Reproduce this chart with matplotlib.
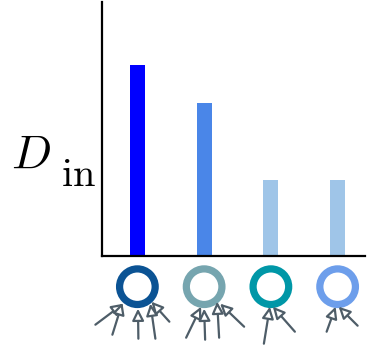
import matplotlib.pyplot as plt
from matplotlib.patches import Circle, FancyArrowPatch

# in-degree de chaque noeud
nodes = ["a", "b", "c", "d"]
d_in = [5, 4, 2, 2]
bar_colors = ["#0000ff", "#4a86e8", "#9fc5e8", "#9fc5e8"]
node_colors = ["#0b5394", "#76a5af", "#0097a7", "#6d9eeb"]

# flèches entrantes : (queue dx, dy, pointe dx, dy) en pixels autour du noeud
in_arrows = [
    [(-42, 38, -14, 17), (-25, 48, -15, 16), (1, 52, 0.6, 22),
     (18, 52, 13, 17), (32, 35, 14, 15)],
    [(-18, 51, -3, 20), (1, 53, 0, 22), (15, 51, 13, 15), (40, 40, 16, 17)],
    [(-7, 57, -1, 20), (24, 45, 2, 20)],
    [(-11, 45, -2, 20), (20, 39, 1, 20)],
]

W, H = 375, 347
plt.rcParams["mathtext.fontset"] = "cm"
fig = plt.figure(figsize=(W / 100, H / 100), dpi=100)

ax = fig.add_axes([102 / W, 1 - 256 / H, 263 / W, 254 / H])
x = list(range(len(nodes)))
ax.bar(x, d_in, width=0.225, color=bar_colors)
ax.set_xlim(-0.53, 3.41)
ax.set_ylim(0, 6.65)
for s in ["top", "right"]:
    ax.spines[s].set_visible(False)
for s in ["left", "bottom"]:
    ax.spines[s].set_linewidth(1.6)
ax.set_xticks([])
ax.set_yticks([])

# D et l'indice "in" posés séparément pour coller au rendu d'origine
fig.text(11 / W, 1 - 168 / H, r"$D$", fontsize=34, ha="left", va="baseline")
fig.text(61 / W, 1 - 186 / H, r"$\mathrm{in}$", fontsize=29, ha="left", va="baseline")

# calque en pixels pour les noeuds
ov = fig.add_axes([0, 0, 1, 1])
ov.set_xlim(0, W)
ov.set_ylim(H, 0)
ov.axis("off")

fig.canvas.draw()
cy = 286.7
for i, xi in enumerate(x):
    px, _ = ax.transData.transform((xi, 0))
    cx = px * W / fig.bbox.width
    ov.add_patch(Circle((cx, cy), 17.8, fill=False, ec=node_colors[i], lw=5.2))
    for tx, ty, hx, hy in in_arrows[i]:
        ov.add_patch(FancyArrowPatch(
            (cx + tx, cy + ty), (cx + hx, cy + hy),
            arrowstyle="-|>,head_length=0.7,head_width=0.35",
            mutation_scale=10, ec="#4e5d68", fc="white", lw=1.6,
            shrinkA=0, shrinkB=0))

fig.savefig("out.png", dpi=100)
